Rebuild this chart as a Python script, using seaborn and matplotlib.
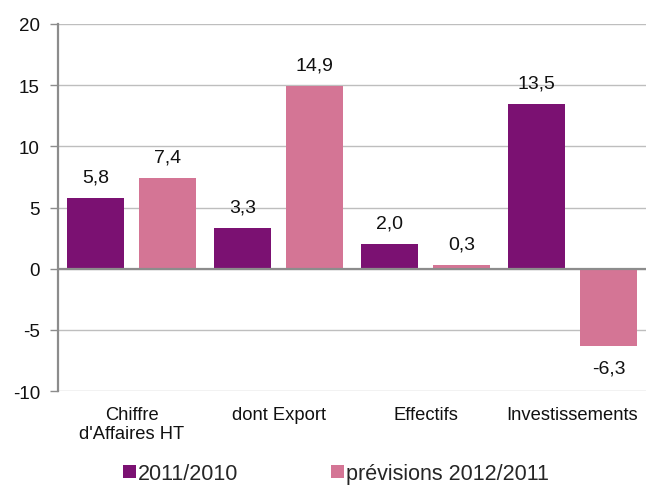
import matplotlib
matplotlib.use("Agg")
import matplotlib.pyplot as plt
import seaborn as sns
import pandas as pd
from matplotlib.patches import Patch

categories = ["Chiffre\nd'Affaires HT", "dont Export", "Effectifs", "Investissements"]
series_names = ["2011/2010", "prévisions 2012/2011"]
values_2011 = [5.8, 3.3, 2.0, 13.5]
values_2012 = [7.4, 14.9, 0.3, -6.3]
colors = ["#7B1172", "#D47595"]

df = pd.DataFrame({
    "cat": categories * 2,
    "serie": [series_names[0]] * 4 + [series_names[1]] * 4,
    "val": values_2011 + values_2012,
})

sns.set_style("white")
plt.rcParams["font.family"] = ["Liberation Sans", "DejaVu Sans"]

fig = plt.figure(figsize=(6.46, 4.89), dpi=100)
ax = fig.add_axes([0.0898, 0.198, 0.9102, 0.751])

sns.barplot(data=df, x="cat", y="val", hue="serie", palette=colors,
            width=0.98, gap=0.21, ax=ax, legend=False, saturation=1,
            edgecolor="none", linewidth=0)

ax.set_ylim(-10, 20)
ax.set_xlim(-0.5, 3.5)
ax.set_yticks(range(-10, 21, 5))
ax.set_yticklabels([str(v) for v in range(-10, 21, 5)], fontsize=13.5, color="#111111")
ax.yaxis.grid(True, color="#BEBEBE", linewidth=1)
ax.set_axisbelow(True)
ax.axhline(0, color="#8C8C8C", linewidth=1.6, zorder=1)
for s in ["top", "right", "bottom"]:
    ax.spines[s].set_visible(False)
ax.spines["left"].set_color("#8C8C8C")
ax.spines["left"].set_linewidth(1.6)
ax.tick_params(axis="y", length=6, color="#8C8C8C", width=1, left=True, pad=7)
ax.tick_params(axis="x", length=0, pad=11)
ax.set_xticks(range(4))
ax.set_xticklabels(categories, fontsize=13.2, color="#111111", linespacing=1.15)
ax.set_xlabel("")
ax.set_ylabel("")

for cont in ax.containers:
    for bar in cont:
        h = bar.get_height()
        x = bar.get_x() + bar.get_width() / 2
        lab = f"{h:.1f}".replace(".", ",")
        if h >= 0:
            ax.annotate(lab, (x, h), xytext=(0, 9), textcoords="offset points",
                        ha="center", va="bottom", fontsize=14, color="#111111")
        else:
            ax.annotate(lab, (x, h), xytext=(0, -10), textcoords="offset points",
                        ha="center", va="top", fontsize=14, color="#111111")

handles = [Patch(facecolor=c, edgecolor="none") for c in colors]
fig.legend(handles, series_names, loc="lower left", bbox_to_anchor=(0.19, 0.008),
           ncol=2, frameon=False, fontsize=15.5, handlelength=0.6, handleheight=0.6,
           handletextpad=0.1, columnspacing=4.3, borderaxespad=0, borderpad=0)

fig.savefig("out.png", dpi=100)
